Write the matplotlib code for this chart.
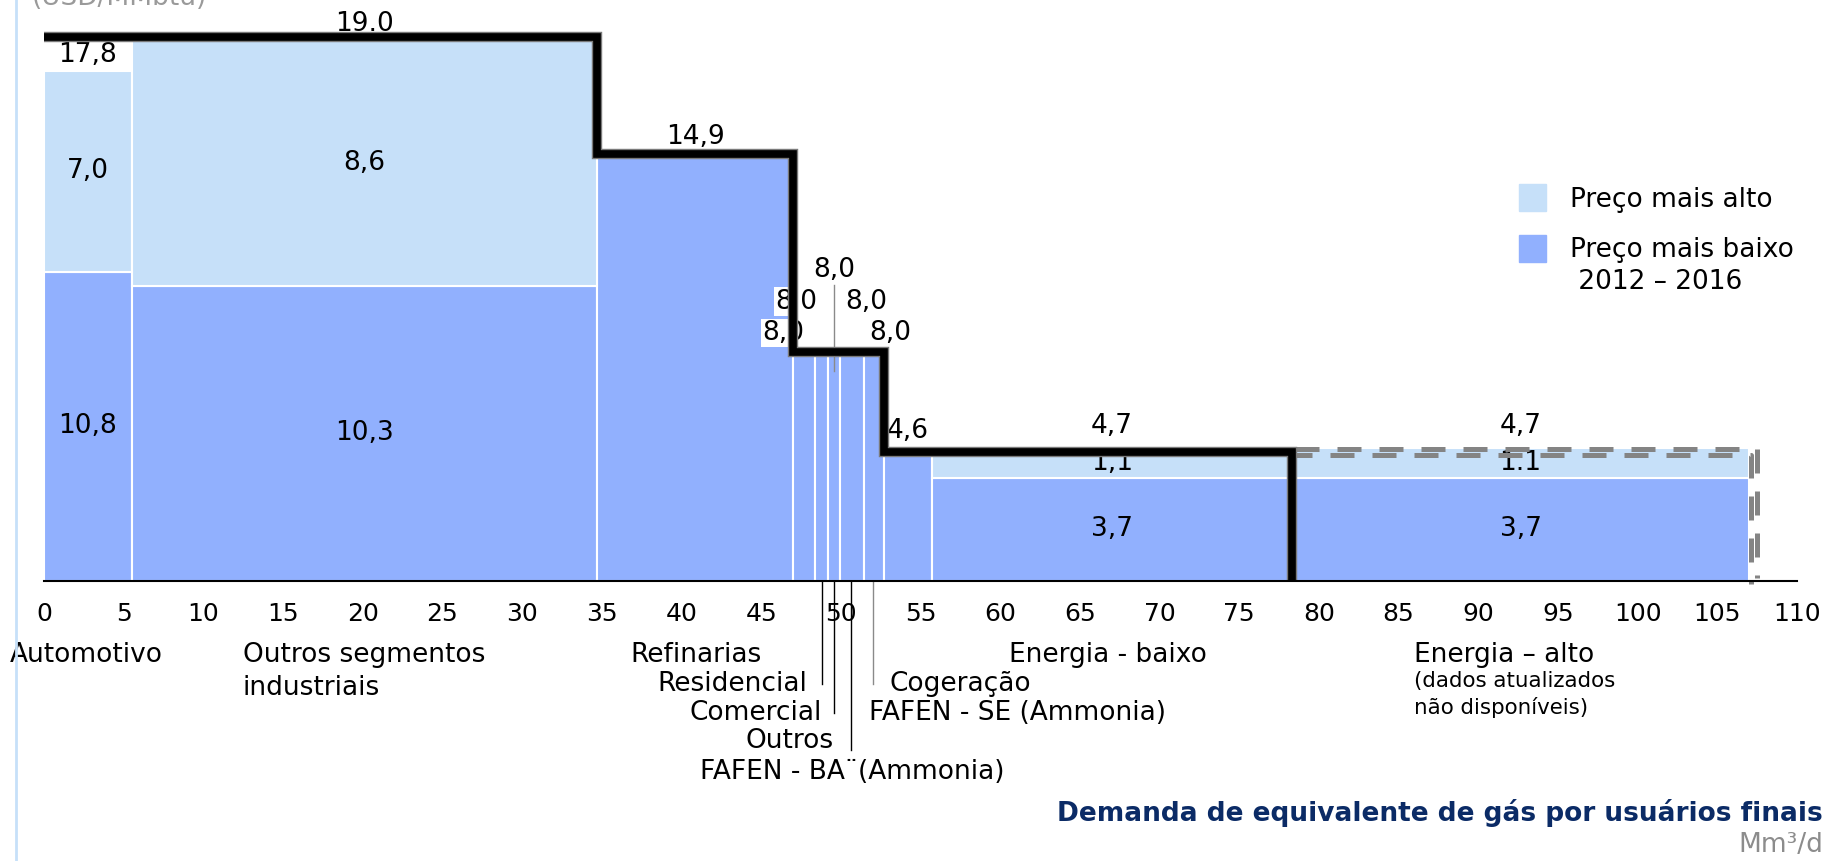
import numpy as np
import matplotlib
matplotlib.use("Agg")
import matplotlib.pyplot as plt
import matplotlib.patheffects as pe
import matplotlib.transforms as mtransforms
from matplotlib.patches import Rectangle
from matplotlib.lines import Line2D

# dados (largura = demanda Mm3/d, altura = preço USD/MMbtu)
segmentos = ["Automotivo", "Outros segmentos industriais", "Refinarias", "Residencial",
             "Comercial", "Outros", "FAFEN - BA", "FAFEN - SE", "Cogeração",
             "Energia - baixo", "Energia - alto"]
larguras = [5.5, 29.23, 12.24, 1.40, 0.80, 0.76, 1.51, 1.27, 3.02, 22.57, 28.7]
preco_baixo = [10.8, 10.3, 14.9, 8.0, 8.0, 8.0, 8.0, 8.0, 4.6, 3.6, 3.6]
preco_extra = [7.0, 8.6, 0, 0, 0, 0, 0, 0, 0, 1.05, 1.05]

# linha de preço máximo (degraus)
degrau_x = [0, 34.73, 46.97, 52.71, 78.3]
degrau_y = [19.0, 14.9, 8.0, 4.5]
caixa_direita = 107.3

rot_baixo = ["10,8", "10,3", "3,7", "3,7"]
rot_extra = ["7,0", "8,6", "1,1", "1.1"]
idx_rot = [0, 1, 9, 10]
ticks_x = list(range(0, 111, 5))

CLARO = "#c6e0f9"
ESCURO = "#91b0fe"
FS = 19

fig = plt.figure(figsize=(18.41, 8.61), dpi=100)
ax = fig.add_axes([44 / 1841, 280 / 861, 1753 / 1841, 573 / 861])
ax.set_xlim(0, 110)
ax.set_ylim(0, 20)
for s in ax.spines.values():
    s.set_visible(False)
ax.set_yticks([])
ax.set_xticks(ticks_x)
ax.tick_params(axis="x", length=0, pad=15, labelsize=18)

esq = np.concatenate([[0], np.cumsum(larguras)[:-1]])
centros = esq + np.array(larguras) / 2

ax.bar(esq, preco_baixo, width=larguras, align="edge", color=ESCURO,
       edgecolor="white", linewidth=1.5, zorder=1)
tem_extra = np.array(preco_extra) > 0
ax.bar(esq[tem_extra], np.array(preco_extra)[tem_extra],
       bottom=np.array(preco_baixo)[tem_extra], width=np.array(larguras)[tem_extra],
       align="edge", color=CLARO, edgecolor="white", linewidth=1.5, zorder=1)

# eixo x
ax.plot([0, 110], [0, 0], color="black", lw=1.5, zorder=6, clip_on=False)

# linha preta em degraus
px, py = [], []
for i, y in enumerate(degrau_y):
    px += [degrau_x[i], degrau_x[i + 1]]
    py += [y, y]
px.append(degrau_x[-1])
py.append(0)
ax.plot(px, py, color="black", lw=5.5, solid_joinstyle="miter", solid_capstyle="butt",
        path_effects=[pe.Stroke(linewidth=7.5, foreground="#7a7a7a"), pe.Normal()],
        zorder=5, clip_on=False)

# caixa tracejada (Energia - alto), linha dupla
bx = [degrau_x[-1], caixa_direita, caixa_direita]
by = [degrau_y[-1], degrau_y[-1], 0]
for d in (2.4, -2.4):
    off = mtransforms.ScaledTranslation(d / 72, d / 72, fig.dpi_scale_trans)
    ax.plot(bx, by, color="#848484", lw=3.6, dashes=(4.8, 3.6), dash_capstyle="butt",
            transform=ax.transData + off, zorder=4, clip_on=False)

# rótulos de valores
for k, i in enumerate(idx_rot):
    ax.text(centros[i], preco_baixo[i] / 2, rot_baixo[k], ha="center", va="center", fontsize=FS, zorder=3)
    ax.text(centros[i], preco_baixo[i] + preco_extra[i] / 2, rot_extra[k], ha="center", va="center",
            fontsize=FS, zorder=3)
ax.text(centros[0], 18.35, "17,8", ha="center", va="center", fontsize=FS, zorder=3)
ax.text(centros[1], 19.45, "19.0", ha="center", va="center", fontsize=FS, zorder=3)
ax.text(centros[2], 15.5, "14,9", ha="center", va="center", fontsize=FS, zorder=3)
ax.text(centros[9], 5.41, "4,7", ha="center", va="center", fontsize=FS, zorder=3)
ax.text(centros[10], 5.41, "4,7", ha="center", va="center", fontsize=FS, zorder=3)
caixa_branca = dict(facecolor="white", edgecolor="none", pad=1)
ax.text(centros[8], 5.24, "4,6", ha="center", va="center", fontsize=FS, zorder=3, bbox=caixa_branca)

# rótulos 8,0 amontoados
ax.text(49.56, 10.85, "8,0", ha="center", va="center", fontsize=FS, zorder=3)
ax.plot([49.58, 49.58], [7.34, 10.33], color="#8a8a8a", lw=1, zorder=4.5)
ax.text(47.2, 9.75, "8,0", ha="center", va="center", fontsize=FS, zorder=3, bbox=caixa_branca)
ax.text(51.6, 9.75, "8,0", ha="center", va="center", fontsize=FS, zorder=3)
ax.text(46.4, 8.65, "8,0", ha="center", va="center", fontsize=FS, zorder=3, bbox=caixa_branca)
ax.text(53.1, 8.65, "8,0", ha="center", va="center", fontsize=FS, zorder=3)

# nomes das categorias
ax.text(2.63, -2.6, "Automotivo", ha="center", va="center", fontsize=FS, clip_on=False)
ax.text(12.48, -2.6, "Outros segmentos", ha="left", va="center", fontsize=FS)
ax.text(12.48, -3.75, "industriais", ha="left", va="center", fontsize=FS)
ax.text(45.04, -2.6, "Refinarias", ha="right", va="center", fontsize=FS)
ax.text(47.92, -3.6, "Residencial", ha="right", va="center", fontsize=FS)
ax.text(48.8, -4.6, "Comercial", ha="right", va="center", fontsize=FS)
ax.text(49.54, -5.6, "Outros", ha="right", va="center", fontsize=FS)
ax.text(50.7, -6.67, "FAFEN - BA\u00a8(Ammonia)", ha="center", va="center", fontsize=FS)
ax.text(53.07, -3.6, "Cogeração", ha="left", va="center", fontsize=FS)
ax.text(51.74, -4.6, "FAFEN - SE (Ammonia)", ha="left", va="center", fontsize=FS)
ax.text(60.58, -2.6, "Energia - baixo", ha="left", va="center", fontsize=FS)
ax.text(85.99, -2.6, "Energia \u2013 alto", ha="left", va="center", fontsize=FS)
ax.text(85.99, -3.49, "(dados atualizados", ha="left", va="center", fontsize=15.4)
ax.text(85.99, -4.43, "não disponíveis)", ha="left", va="center", fontsize=15.4)

guia_x = [48.79, 49.58, 50.67, 52.02]
guia_fim = [-3.6, -4.6, -5.9, -3.6]
guia_cor = ["black", "black", "black", "#8a8a8a"]
for gx, gy, gc in zip(guia_x, guia_fim, guia_cor):
    ax.plot([gx, gx], [0, gy], color=gc, lw=1, clip_on=False, zorder=2)

# legenda
fig.add_artist(Rectangle((1519 / 1841, 1 - 211 / 861), 27 / 1841, 27 / 861,
                         transform=fig.transFigure, color=CLARO))
fig.add_artist(Rectangle((1519 / 1841, 1 - 262 / 861), 27 / 1841, 27 / 861,
                         transform=fig.transFigure, color=ESCURO))
fig.text(1570 / 1841, 1 - 200 / 861, "Preço mais alto", fontsize=FS, va="center")
fig.text(1570 / 1841, 1 - 250 / 861, "Preço mais baixo", fontsize=FS, va="center")
fig.text(1570 / 1841, 1 - 282 / 861, " 2012 \u2013 2016", fontsize=FS, va="center")

# linha azul à esquerda, unidades e título
fig.add_artist(Line2D([16 / 1841, 16 / 1841], [0, 1], transform=fig.transFigure, color=CLARO, lw=2))
fig.text(32 / 1841, 1 - 5 / 861, "(USD/MMbtu)", fontsize=FS, color="#9a9a9a", va="baseline")
fig.text(1823 / 1841, 1 - 813 / 861, "Demanda de equivalente de gás por usuários finais",
         fontsize=FS, fontweight="bold", color="#0b2b66", ha="right", va="center")
fig.text(1823 / 1841, 1 - 845 / 861, "Mm\u00b3/d", fontsize=FS, color="#8c8c8c", ha="right", va="center")

fig.savefig("out.png", dpi=100)
